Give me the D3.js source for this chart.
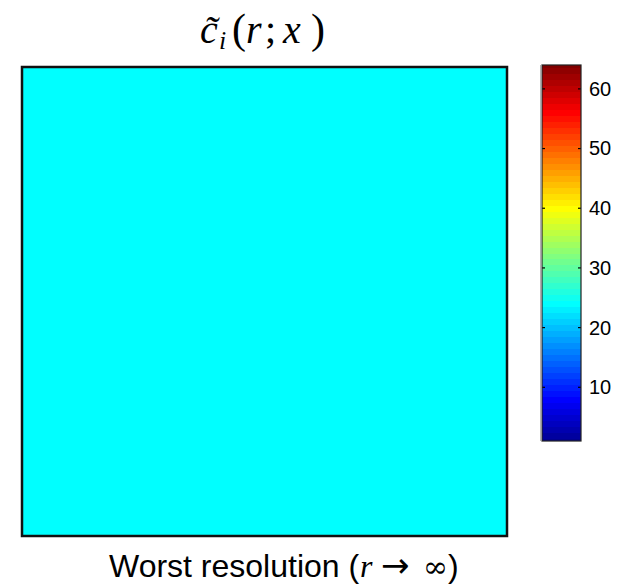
<!DOCTYPE html>
<html>
<head>
<meta charset="utf-8">
<script src="https://cdn.jsdelivr.net/npm/d3@7"></script>
<style>
  html, body { margin: 0; padding: 0; background: #fff; }
  svg { display: block; }
</style>
</head>
<body>
<svg id="chart" width="628" height="584"></svg>
<script>
// Field values (colormap index) on the image grid
const rowIds = ["r1", "r2", "r3", "r4", "r5"];
const colIds = ["c1", "c2", "c3", "c4", "c5"];
const fieldValues = [
  [24, 24, 24, 24, 24],
  [24, 24, 24, 24, 24],
  [24, 24, 24, 24, 24],
  [24, 24, 24, 24, 24],
  [24, 24, 24, 24, 24]
];
const colorLimits = [1, 64];
const colorbarTicks = [10, 20, 30, 40, 50, 60];
const bottomLabel = ["Worst resolution (", "r", "\u2192", "\u221E", ")"];

// MATLAB-style jet colormap with n entries
function jet(n) {
  const out = [];
  const clamp = v => Math.max(0, Math.min(1, v));
  for (let i = 0; i < n; i++) {
    const t = (i + 1) / n;
    const x = 4 * t;
    const r = clamp(Math.min(x - 1.5, -x + 4.5));
    const g = clamp(Math.min(x - 0.5, -x + 3.5));
    const b = clamp(Math.min(x + 0.5, -x + 2.5));
    out.push(d3.rgb(Math.round(r * 255), Math.round(g * 255), Math.round(b * 255)).formatHex());
  }
  return out;
}
const cmap = jet(64);
const colorOf = v => cmap[Math.max(0, Math.min(63, Math.round(v) - 1))];

const svg = d3.select("#chart");
const serif = "'Liberation Serif', 'DejaVu Serif', serif";
const sans = "'Liberation Sans', Arial, sans-serif";

// Main image panel
const plot = { x0: 22, y0: 67, x1: 507, y1: 536 };
const xs = d3.scaleBand().domain(colIds).range([plot.x0, plot.x1]);
const ys = d3.scaleBand().domain(rowIds).range([plot.y0, plot.y1]);

const cells = [];
fieldValues.forEach((row, i) => row.forEach((v, j) => cells.push({ r: rowIds[i], c: colIds[j], v })));

svg.append("g")
  .attr("shape-rendering", "crispEdges")
  .selectAll("rect")
  .data(cells)
  .join("rect")
  .attr("x", d => xs(d.c))
  .attr("y", d => ys(d.r))
  .attr("width", xs.bandwidth() + 0.5)
  .attr("height", ys.bandwidth() + 0.5)
  .attr("fill", d => colorOf(d.v));

svg.append("rect")
  .attr("x", plot.x0).attr("y", plot.y0)
  .attr("width", plot.x1 - plot.x0).attr("height", plot.y1 - plot.y0)
  .attr("fill", "none").attr("stroke", "#111").attr("stroke-width", 2.5);

// Title: c~_i(r; x) set as one text with math-style glyph spacing
const titleBase = 43;
const title = svg.append("text")
  .attr("y", titleBase)
  .attr("font-family", serif)
  .attr("font-size", 40)
  .attr("fill", "#000");
const part = (x, s, opts = {}) => {
  const t = title.append("tspan").attr("x", x).attr("y", titleBase + (opts.dy || 0)).text(s);
  if (opts.italic) t.attr("font-style", "italic");
  if (opts.size) t.attr("font-size", opts.size);
  return t;
};
part(200, "c\u0303", { italic: true });
part(219, "i", { italic: true, size: 26, dy: 6 });
part(232, "(", { size: 42 });
part(246, "r", { italic: true });
part(265, ";");
part(283, "x", { italic: true });
part(311, ")", { size: 42 });

// Bottom label
const labBase = 577;
const lab = svg.append("text")
  .attr("y", labBase)
  .attr("font-family", sans)
  .attr("font-size", 32)
  .attr("fill", "#000");
lab.append("tspan").attr("x", 109).text(bottomLabel[0]);
lab.append("tspan").attr("x", 360).attr("font-family", serif).attr("font-style", "italic").text(bottomLabel[1]);
lab.append("tspan").attr("x", 381).attr("font-family", "'DejaVu Sans', sans-serif").attr("font-size", 34).text(bottomLabel[2]);
lab.append("tspan").attr("x", 423).attr("font-family", "'DejaVu Serif', serif").attr("font-size", 30).text(bottomLabel[3]);
lab.append("tspan").attr("x", 448).text(bottomLabel[4]);

// Colorbar
const cb = { x0: 542, x1: 581, y0: 65, y1: 441 };
const cy = d3.scaleLinear().domain(colorLimits).range([cb.y1, cb.y0]);
const levels = d3.range(colorLimits[0], colorLimits[1] + 1);

svg.append("defs").append("clipPath").attr("id", "cbclip")
  .append("rect").attr("x", cb.x0).attr("y", cb.y0).attr("width", cb.x1 - cb.x0).attr("height", cb.y1 - cb.y0);

svg.append("g")
  .attr("clip-path", "url(#cbclip)")
  .attr("shape-rendering", "crispEdges")
  .selectAll("rect")
  .data(levels)
  .join("rect")
  .attr("x", cb.x0)
  .attr("width", cb.x1 - cb.x0)
  .attr("y", d => cy(d + 0.5))
  .attr("height", d => cy(d - 0.5) - cy(d + 0.5) + 0.5)
  .attr("fill", d => colorOf(d));

// Colorbar ticks on both edges, labels on the right
const tickG = svg.append("g");
tickG.selectAll("line.l")
  .data(colorbarTicks).join("line").attr("class", "l")
  .attr("x1", cb.x0).attr("x2", cb.x0 + 3)
  .attr("y1", d => cy(d)).attr("y2", d => cy(d))
  .attr("stroke", "#000").attr("stroke-width", 1.2);
tickG.selectAll("line.r")
  .data(colorbarTicks).join("line").attr("class", "r")
  .attr("x1", cb.x1 - 3).attr("x2", cb.x1)
  .attr("y1", d => cy(d)).attr("y2", d => cy(d))
  .attr("stroke", "#000").attr("stroke-width", 1.2);

const axis = d3.axisRight(cy).tickValues(colorbarTicks).tickSize(0).tickPadding(8);
const ag = svg.append("g").attr("transform", `translate(${cb.x1},0)`).call(axis);
ag.select(".domain").remove();
ag.selectAll("text")
  .attr("font-family", sans)
  .attr("font-size", 20)
  .attr("fill", "#000");

svg.append("rect")
  .attr("x", cb.x0).attr("y", cb.y0)
  .attr("width", cb.x1 - cb.x0).attr("height", cb.y1 - cb.y0)
  .attr("fill", "none").attr("stroke", "#222").attr("stroke-width", 1.2);
svg.append("line")
  .attr("x1", cb.x0 - 1).attr("x2", cb.x0 - 1).attr("y1", cb.y0).attr("y2", cb.y1)
  .attr("stroke", "#999").attr("stroke-width", 1.5);
</script>
</body>
</html>
